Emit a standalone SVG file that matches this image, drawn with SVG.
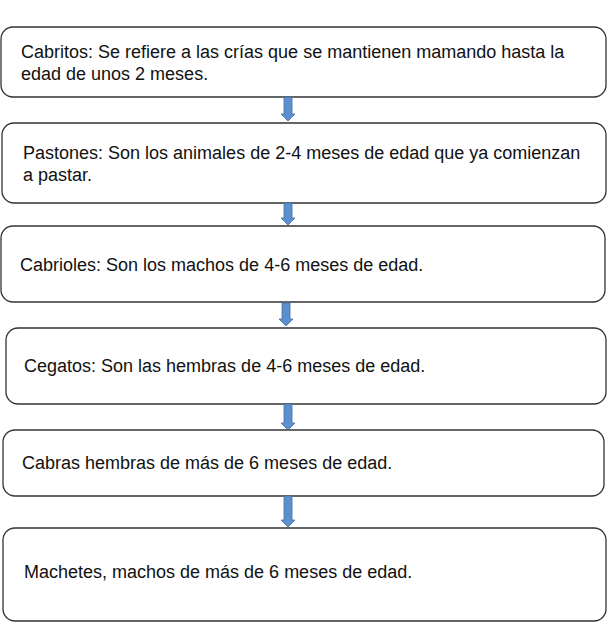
<svg xmlns="http://www.w3.org/2000/svg" width="611" height="632" viewBox="0 0 611 632">
<style>
.box{fill:#fff;stroke:#333;stroke-width:1.3}
.t{font-family:"Liberation Sans",Arial,sans-serif;font-size:18px;fill:#111}
.arr{fill:#5b8fd0;stroke:#41719c;stroke-width:0.8}
</style>
<rect width="611" height="632" fill="#fff"/>
<g id="n1"><rect class="box" x="1" y="27" width="605" height="70" rx="12"/>
<text class="t" x="21" y="58">Cabritos: Se refiere a las crías que se mantienen mamando hasta la</text>
<text class="t" x="21" y="80">edad de unos 2 meses.</text></g>
<g id="n2"><rect class="box" x="2" y="123" width="604" height="80" rx="12"/>
<text class="t" x="23" y="159">Pastones: Son los animales de 2-4 meses de edad que ya comienzan</text>
<text class="t" x="23" y="181">a pastar.</text></g>
<g id="n3"><rect class="box" x="1" y="226" width="604" height="76" rx="12"/>
<text class="t" x="20" y="271">Cabrioles: Son los machos de 4-6 meses de edad.</text></g>
<g id="n4"><rect class="box" x="6" y="328" width="600" height="76" rx="12"/>
<text class="t" x="24" y="372">Cegatos: Son las hembras de 4-6 meses de edad.</text></g>
<g id="n5"><rect class="box" x="3" y="430" width="601" height="66" rx="12"/>
<text class="t" x="22" y="469">Cabras hembras de más de 6 meses de edad.</text></g>
<g id="n6"><rect class="box" x="3" y="528" width="603" height="93" rx="12"/>
<text class="t" x="24" y="578">Machetes, machos de más de 6 meses de edad.</text></g>
<g id="connectors">
<path class="arr" d="M284,97 H292 V114 H295 L288,121 L281,114 H284 Z"/>
<path class="arr" d="M284,203 H292 V218 H295 L288,225 L281,218 H284 Z"/>
<path class="arr" d="M282,303 H290 V319 H293 L286,326 L279,319 H282 Z"/>
<path class="arr" d="M284,404 H292 V423 H295 L288,430 L281,423 H284 Z"/>
<path class="arr" d="M284,496 H292 V520 H295 L288,527 L281,520 H284 Z"/>
</g>
</svg>
